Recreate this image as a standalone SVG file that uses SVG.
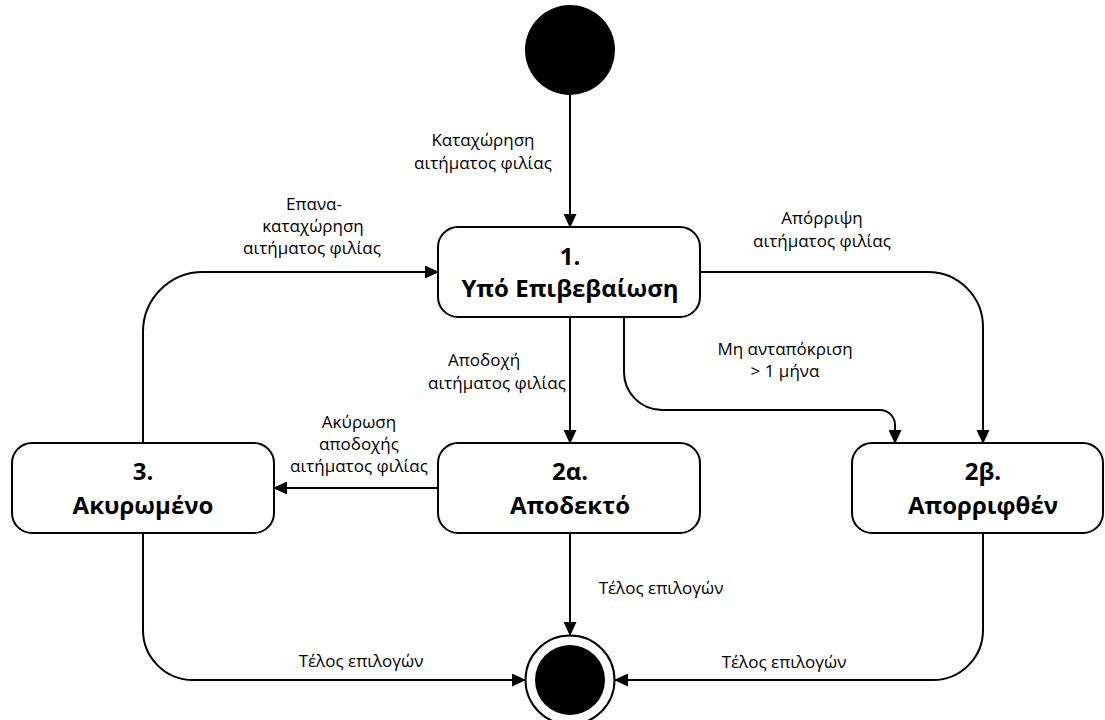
<svg xmlns="http://www.w3.org/2000/svg" width="1105" height="720" viewBox="0 0 1105 720">
<defs>
<style>
.box{fill:#fff;stroke:#000;stroke-width:2}
.title{font-family:"Open Sans","Liberation Sans",sans-serif;font-weight:bold;font-size:24px;text-anchor:middle;fill:#000}
.lbl{font-family:"Open Sans","Liberation Sans",sans-serif;font-size:17px;text-anchor:middle;fill:#000}
.edge{fill:none;stroke:#000;stroke-width:2;marker-end:url(#arr)}
</style>
<marker id="arr" markerUnits="userSpaceOnUse" markerWidth="14" markerHeight="13" refX="13" refY="6.5" orient="auto">
<path d="M0,0 L14,6.5 L0,13 Z" fill="#000"/>
</marker>
</defs>
<rect width="1105" height="720" fill="#fff"/>
<g id="connectors">
<path class="edge" d="M570,95 V227"/>
<path class="edge" d="M143,443 V332 A60,60 0 0 1 203,272 H438"/>
<path class="edge" d="M700,272 H928 A55,55 0 0 1 983,327 V443"/>
<path class="edge" d="M570,317 V443"/>
<path class="edge" d="M624,317 V372 A38,38 0 0 0 662,410 H880 A15,15 0 0 1 895,425 V443"/>
<path class="edge" d="M438,488 H274"/>
<path class="edge" d="M143,533 V630 A50,50 0 0 0 193,680 H525"/>
<path class="edge" d="M570,533 V635"/>
<path class="edge" d="M983,533 V630 A50,50 0 0 1 933,680 H615"/>
</g>
<g id="labels">
<text class="lbl" x="483" y="146">Καταχώρηση</text>
<text class="lbl" x="483" y="169">αιτήματος φιλίας</text>
<text class="lbl" x="314" y="210">Επανα-</text>
<text class="lbl" x="313" y="232">καταχώρηση</text>
<text class="lbl" x="312" y="254">αιτήματος φιλίας</text>
<text class="lbl" x="822" y="224">Απόρριψη</text>
<text class="lbl" x="822" y="247">αιτήματος φιλίας</text>
<text class="lbl" x="484" y="366">Αποδοχή</text>
<text class="lbl" x="497" y="389">αιτήματος φιλίας</text>
<text class="lbl" x="785" y="355">Μη ανταπόκριση</text>
<text class="lbl" x="785" y="377">&gt; 1 μήνα</text>
<text class="lbl" x="359" y="428">Ακύρωση</text>
<text class="lbl" x="359" y="450">αποδοχής</text>
<text class="lbl" x="359" y="472">αιτήματος φιλίας</text>
<text class="lbl" x="661" y="594">Τέλος επιλογών</text>
<text class="lbl" x="361" y="667">Τέλος επιλογών</text>
<text class="lbl" x="784" y="668">Τέλος επιλογών</text>
</g>
<g id="start">
<circle cx="570" cy="50" r="45" fill="#000"/>
</g>
<g id="s1">
<rect class="box" x="438" y="227" width="262" height="90" rx="20"/>
<text class="title" x="570" y="265">1.</text>
<text class="title" x="570" y="297">Υπό Επιβεβαίωση</text>
</g>
<g id="s2a">
<rect class="box" x="438" y="443" width="262" height="90" rx="20"/>
<text class="title" x="570" y="480">2α.</text>
<text class="title" x="570" y="514">Αποδεκτό</text>
</g>
<g id="s2b">
<rect class="box" x="852" y="443" width="251" height="90" rx="20"/>
<text class="title" x="983" y="480">2β.</text>
<text class="title" x="983" y="514">Απορριφθέν</text>
</g>
<g id="s3">
<rect class="box" x="12" y="443" width="262" height="90" rx="20"/>
<text class="title" x="143" y="480">3.</text>
<text class="title" x="143" y="514">Ακυρωμένο</text>
</g>
<g id="end">
<circle cx="570" cy="680" r="44.5" fill="#fff" stroke="#000" stroke-width="2"/>
<circle cx="570" cy="680" r="35" fill="#000"/>
</g>
</svg>
